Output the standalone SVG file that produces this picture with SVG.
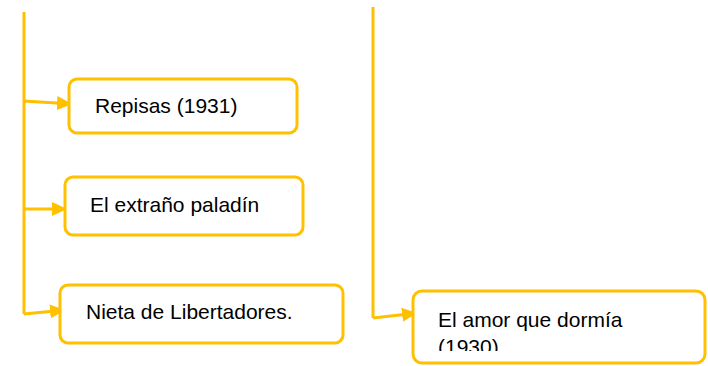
<svg xmlns="http://www.w3.org/2000/svg" width="708" height="366" viewBox="0 0 708 366">
<style>
.box{fill:#fff;stroke:#FFC000;stroke-width:3}
.con{fill:none;stroke:#FFC000;stroke-width:3}
.t{font-family:"Liberation Sans",Arial,sans-serif;font-size:21px;fill:#000}
</style>
<defs>
<marker id="ah" markerUnits="userSpaceOnUse" viewBox="0 0 15 14" refX="15" refY="7" markerWidth="15" markerHeight="14" orient="auto">
<path d="M0,0 L15,7 L0,14 Z" fill="#FFC000"/>
</marker>
<clipPath id="c4"><rect x="413" y="290" width="295" height="61"/></clipPath>
</defs>
<rect width="708" height="366" fill="#fff"/>
<g id="connectors">
<path class="con" d="M24,12 L24,314"/>
<path class="con" d="M24,101 L72,104" marker-end="url(#ah)"/>
<path class="con" d="M24,209 L67,209" marker-end="url(#ah)"/>
<path class="con" d="M24,314 L65,310" marker-end="url(#ah)"/>
<path class="con" d="M373,7 L373,318"/>
<path class="con" d="M373,318 L417,313" marker-end="url(#ah)"/>
</g>
<g id="n1">
<rect class="box" x="69" y="79" width="228" height="54" rx="8"/>
<text class="t" x="95" y="113">Repisas (1931)</text>
</g>
<g id="n2">
<rect class="box" x="65" y="177" width="238" height="58" rx="8"/>
<text class="t" x="90" y="212">El extraño paladín</text>
</g>
<g id="n3">
<rect class="box" x="60" y="285" width="283" height="58" rx="8"/>
<text class="t" x="86" y="319">Nieta de Libertadores.</text>
</g>
<g id="n4">
<rect class="box" x="413" y="291" width="292" height="72" rx="9"/>
<g clip-path="url(#c4)">
<text class="t" x="438" y="327">El amor que dormía</text>
<text class="t" x="438" y="354">(1930)</text>
</g>
</g>
</svg>
